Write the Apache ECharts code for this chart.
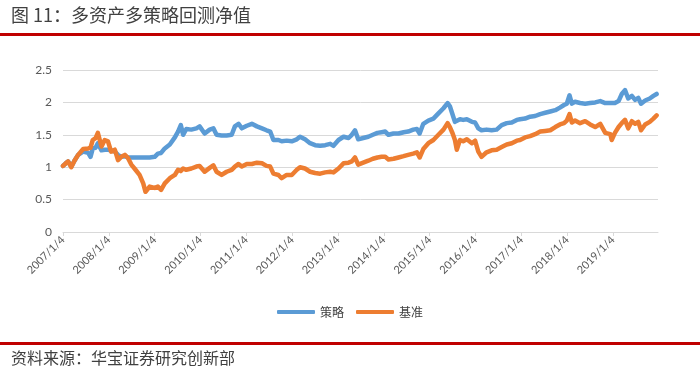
<!DOCTYPE html>
<html>
<head>
<meta charset="utf-8">
<script src="https://cdn.jsdelivr.net/npm/echarts@6/dist/echarts.min.js"></script>
<style>
html,body{margin:0;padding:0;background:#fff;}
#c{width:700px;height:379px;}
</style>
</head>
<body>
<div id="c"></div>
<script>
// x positions as fractional years (2007.00 = 2007/1/4)
const years = [
2007.00,2007.06,2007.11,2007.18,2007.25,2007.33,2007.44,2007.55,2007.60,2007.65,
2007.71,2007.76,2007.84,2007.91,2007.98,2008.05,2008.13,2008.20,2008.27,2008.35,
2008.42,2008.49,2008.56,2008.67,2008.75,2008.80,2008.89,2009.00,2009.07,2009.14,
2009.22,2009.33,2009.44,2009.51,2009.57,2009.62,2009.69,2009.80,2009.91,2009.98,
2010.09,2010.20,2010.28,2010.35,2010.46,2010.57,2010.68,2010.75,2010.83,2010.90,
2011.01,2011.12,2011.23,2011.34,2011.44,2011.52,2011.59,2011.70,2011.77,2011.88,
2011.99,2012.10,2012.17,2012.28,2012.39,2012.50,2012.61,2012.72,2012.83,2012.90,
2013.01,2013.12,2013.23,2013.30,2013.37,2013.44,2013.55,2013.66,2013.76,2013.86,
2013.95,2014.03,2014.10,2014.21,2014.32,2014.43,2014.53,2014.64,2014.72,2014.78,
2014.86,2014.97,2015.08,2015.19,2015.30,2015.39,2015.44,2015.50,2015.55,2015.59,
2015.66,2015.73,2015.81,2015.92,2015.99,2016.06,2016.13,2016.24,2016.35,2016.46,
2016.57,2016.68,2016.79,2016.90,2016.97,2017.08,2017.19,2017.30,2017.41,2017.52,
2017.63,2017.74,2017.84,2017.93,2017.99,2018.05,2018.10,2018.17,2018.28,2018.39,
2018.50,2018.61,2018.72,2018.83,2018.94,2018.97,2019.04,2019.12,2019.19,2019.26,
2019.33,2019.41,2019.48,2019.55,2019.61,2019.70,2019.80,2019.88,2019.95
];
const strategy = [
1.02,1.06,1.09,1.01,1.10,1.19,1.24,1.22,1.16,1.29,
1.30,1.37,1.26,1.27,1.27,1.26,1.24,1.19,1.16,1.17,
1.15,1.15,1.15,1.15,1.15,1.15,1.15,1.16,1.21,1.22,
1.29,1.35,1.46,1.55,1.65,1.50,1.59,1.58,1.60,1.63,
1.52,1.58,1.60,1.50,1.49,1.49,1.50,1.63,1.67,1.60,
1.64,1.67,1.63,1.60,1.57,1.55,1.42,1.42,1.40,1.41,
1.40,1.43,1.47,1.43,1.37,1.34,1.33,1.34,1.36,1.33,
1.42,1.47,1.45,1.50,1.57,1.43,1.45,1.47,1.50,1.53,
1.54,1.55,1.50,1.52,1.52,1.54,1.55,1.58,1.59,1.52,
1.67,1.72,1.75,1.83,1.91,1.99,1.94,1.81,1.70,1.73,
1.74,1.73,1.74,1.70,1.69,1.60,1.57,1.58,1.57,1.58,
1.65,1.68,1.69,1.73,1.74,1.75,1.78,1.79,1.82,1.84,
1.86,1.88,1.92,1.96,1.98,2.11,1.98,2.01,1.99,1.98,
1.99,2.00,2.02,1.99,1.99,1.99,1.99,2.02,2.13,2.19,
2.06,2.10,2.04,2.07,1.98,2.03,2.06,2.10,2.13
];
const benchmark = [
1.02,1.06,1.09,1.00,1.10,1.19,1.28,1.29,1.30,1.42,
1.45,1.53,1.32,1.42,1.40,1.24,1.27,1.11,1.16,1.19,
1.14,1.04,0.98,0.88,0.75,0.62,0.70,0.68,0.70,0.65,
0.75,0.83,0.88,0.96,0.94,0.98,0.96,0.98,1.01,1.02,
0.93,0.99,1.03,0.93,0.88,0.93,0.96,1.01,1.05,1.01,
1.05,1.05,1.07,1.06,1.02,1.01,0.90,0.88,0.83,0.88,
0.88,0.96,1.00,0.98,0.93,0.91,0.90,0.92,0.93,0.92,
0.98,1.06,1.07,1.09,1.15,1.04,1.07,1.10,1.13,1.15,
1.16,1.16,1.12,1.13,1.15,1.17,1.19,1.21,1.23,1.15,
1.28,1.37,1.42,1.50,1.58,1.68,1.62,1.52,1.42,1.27,
1.42,1.40,1.43,1.37,1.41,1.24,1.16,1.23,1.26,1.27,
1.31,1.35,1.37,1.41,1.42,1.46,1.48,1.51,1.55,1.56,
1.57,1.62,1.66,1.68,1.72,1.82,1.69,1.72,1.68,1.71,
1.66,1.62,1.67,1.53,1.51,1.42,1.53,1.62,1.68,1.73,
1.60,1.71,1.67,1.70,1.57,1.66,1.70,1.75,1.80
];
const tickYears = [2007,2008,2009,2010,2011,2012,2013,2014,2015,2016,2017,2018,2019];
const tickLabels = ['2007/1/4','2008/1/4','2009/1/4','2010/1/4','2011/1/4','2012/1/4','2013/1/4','2014/1/4','2015/1/4','2016/1/4','2017/1/4','2018/1/4','2019/1/4'];
const seriesNames = ['策略','基准'];
const titleText = '图 11：多资产多策略回测净值';
const sourceText = '资料来源：华宝证券研究创新部';

const chart = echarts.init(document.getElementById('c'), null, {renderer:'canvas'});
const font = 'Lato, "Noto Sans", sans-serif';
const cjk = '"Noto Sans CJK SC", sans-serif';
chart.setOption({
  animation:false,
  backgroundColor:'#ffffff',
  grid:{left:63,right:42,top:70,bottom:147,containLabel:false},
  legend:{
    data:seriesNames.map(n=>({name:n,icon:'roundRect'})),
    left:'center', top:301,
    itemWidth:38, itemHeight:4, itemGap:12,
    textStyle:{fontFamily:cjk,fontSize:12,color:'#404040'}
  },
  xAxis:{
    type:'value', min:2007, max:2019.98, interval:1,
    axisLine:{show:true,lineStyle:{color:'#d9d9d9',width:1}},
    axisTick:{show:true,length:4,lineStyle:{color:'#d9d9d9'},customValues:tickYears},
    splitLine:{show:false},
    axisLabel:{
      rotate:45, margin:6, color:'#595959', fontSize:11, fontFamily:font,
      customValues:tickYears,
      formatter:v=>{const i=tickYears.indexOf(Math.round(v));return i>=0?tickLabels[i]:'';}
    }
  },
  yAxis:{
    type:'value', min:0, max:2.5, interval:0.5,
    axisLine:{show:false}, axisTick:{show:false},
    splitLine:{lineStyle:{color:'#d9d9d9',width:1}},
    axisLabel:{color:'#595959',fontSize:12,fontFamily:font,margin:11}
  },
  series:[
    {name:seriesNames[0],type:'line',showSymbol:false,symbol:'none',
     data:years.map((x,i)=>[x,strategy[i]]),
     lineStyle:{color:'#5B9BD5',width:4.5,cap:'round',join:'round'},itemStyle:{color:'#5B9BD5'}},
    {name:seriesNames[1],type:'line',showSymbol:false,symbol:'none',
     data:years.map((x,i)=>[x,benchmark[i]]),
     lineStyle:{color:'#ED7D31',width:4.5,cap:'round',join:'round'},itemStyle:{color:'#ED7D31'}}
  ],
  graphic:[
    {type:'text',left:11,top:6,style:{text:titleText,fontFamily:cjk,fontSize:18,fill:'#404040'}},
    {type:'rect',left:0,top:33,shape:{width:700,height:3},style:{fill:'#C00000'}},
    {type:'rect',left:0,top:342,shape:{width:700,height:3},style:{fill:'#C00000'}},
    {type:'text',left:11,top:350,style:{text:sourceText,fontFamily:cjk,fontSize:16,fill:'#404040'}}
  ]
});
</script>
</body>
</html>
